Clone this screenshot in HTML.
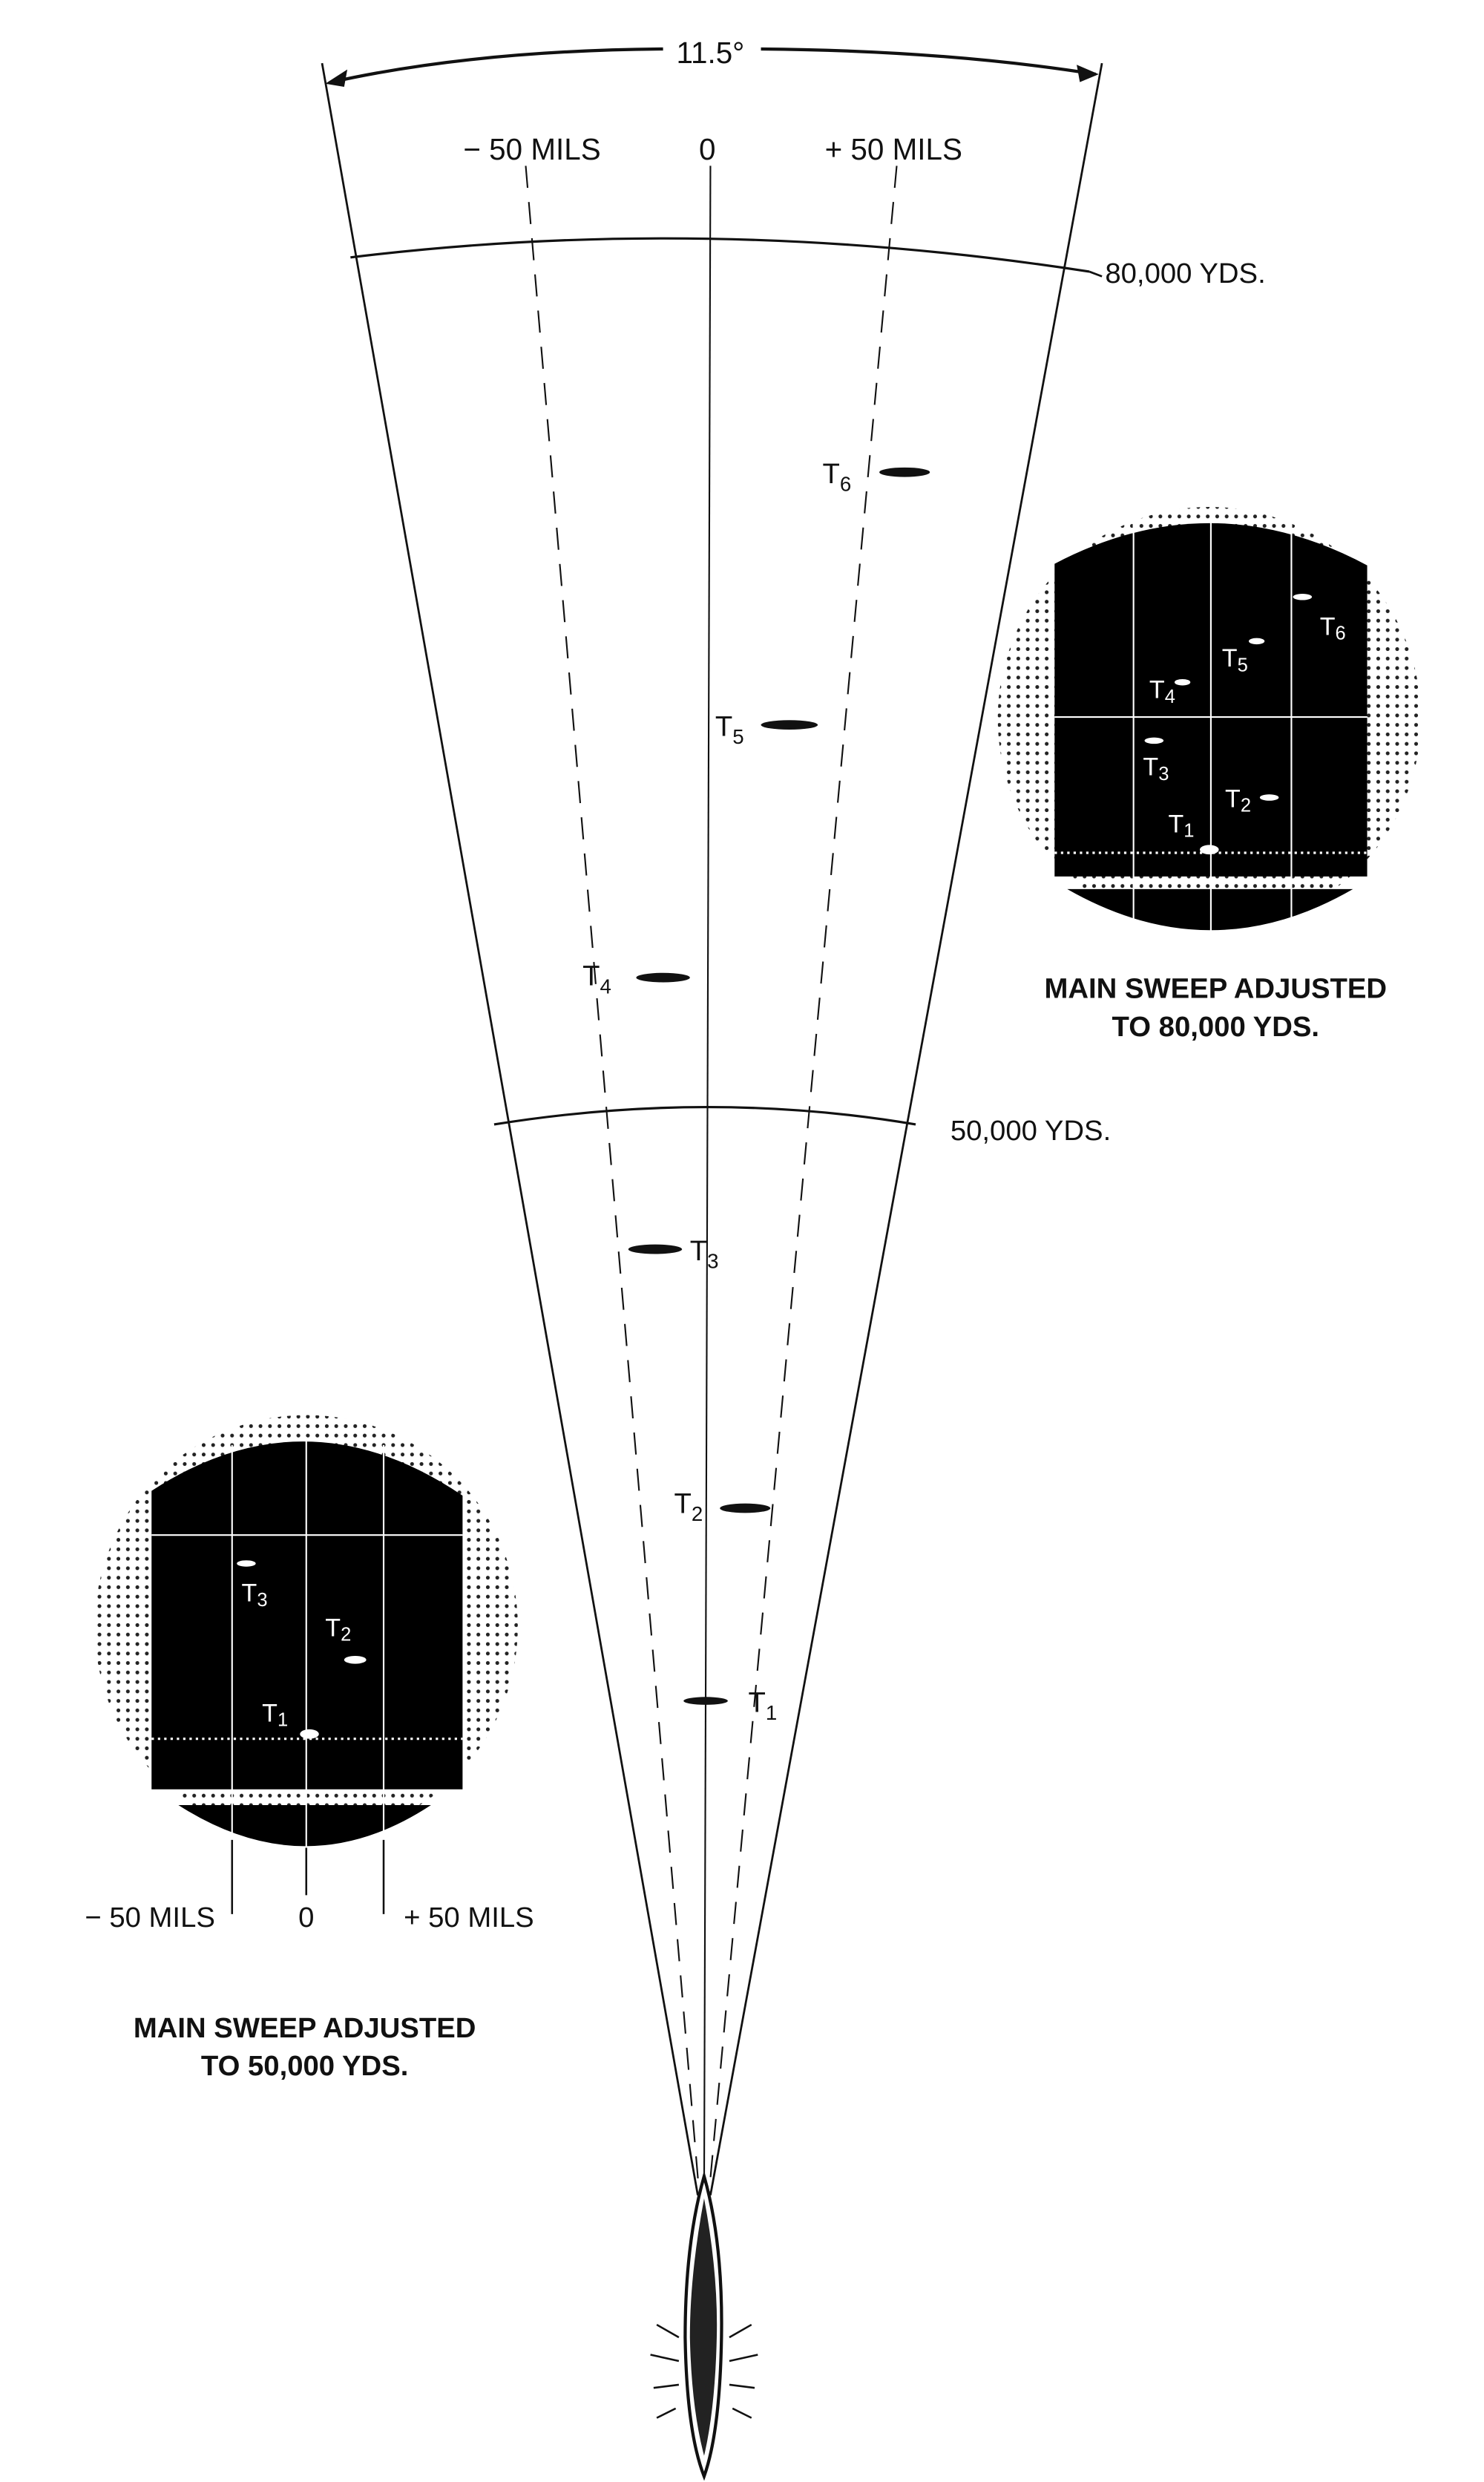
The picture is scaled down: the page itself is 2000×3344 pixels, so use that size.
<!DOCTYPE html>
<html><head><meta charset="utf-8"><style>
html,body{margin:0;padding:0;background:#fff;}
svg{display:block;}
text{font-family:"Liberation Sans",sans-serif;fill:#111;}
</style></head><body>
<svg width="2000" height="3344" viewBox="0 0 940 1571.6" preserveAspectRatio="none" xmlns="http://www.w3.org/2000/svg">
<defs>
<pattern id="dots" width="6" height="6" patternUnits="userSpaceOnUse">
<circle cx="3" cy="3" r="1.2" fill="#222"/>
</pattern>
</defs>
<g stroke="#111" fill="none" stroke-width="1.3">
<line x1="204" y1="40" x2="442" y2="1390"/>
<line x1="698" y1="40" x2="450" y2="1390"/>
<line x1="450" y1="105" x2="446" y2="1390" stroke-width="1"/>
<line x1="333" y1="105" x2="443" y2="1390" stroke-dasharray="14,9" stroke-width="1"/>
<line x1="568" y1="105" x2="449" y2="1390" stroke-dasharray="14,9" stroke-width="1"/>
<path d="M222,163 Q450,135 690,172" stroke-width="1.5"/>
<path d="M690,172 L698,175"/>
<path d="M313,712 Q450,690 580,712" stroke-width="1.5"/>
<path d="M210,52 Q300,32 420,31" stroke-width="2"/>
<path d="M482,31 Q600,32 694,47" stroke-width="2"/>
</g>
<polygon points="206,53 220,44 218,55" fill="#111"/>
<polygon points="696,47 682,41 684,52" fill="#111"/>
<text x="450" y="40" font-size="19" text-anchor="middle">11.5°</text>
<text x="337" y="101" font-size="19" text-anchor="middle">− 50 MILS</text>
<text x="448" y="101" font-size="19" text-anchor="middle">0</text>
<text x="566" y="101" font-size="19" text-anchor="middle">+ 50 MILS</text>
<text x="700" y="179" font-size="18">80,000 YDS.</text>
<text x="602" y="722" font-size="18">50,000 YDS.</text>
<g fill="#111">
<ellipse cx="573" cy="299" rx="16" ry="3"/>
<ellipse cx="500" cy="459" rx="18" ry="3"/>
<ellipse cx="420" cy="619" rx="17" ry="3"/>
<ellipse cx="415" cy="791" rx="17" ry="3"/>
<ellipse cx="472" cy="955" rx="16" ry="3"/>
<ellipse cx="447" cy="1077" rx="14" ry="2.5"/>
</g>
<g font-size="18">
<text x="521" y="306">T<tspan font-size="13" dy="5">6</tspan></text>
<text x="453" y="466">T<tspan font-size="13" dy="5">5</tspan></text>
<text x="369" y="624">T<tspan font-size="13" dy="5">4</tspan></text>
<text x="437" y="798">T<tspan font-size="13" dy="5">3</tspan></text>
<text x="427" y="958">T<tspan font-size="13" dy="5">2</tspan></text>
<text x="474" y="1084">T<tspan font-size="13" dy="5">1</tspan></text>
</g>
<circle cx="766" cy="455" r="134" fill="url(#dots)"/>
<path d="M668,357 Q767,305 866,358 L866,555 L668,555 Z" fill="#000"/>
<path d="M676,563 L857,563 Q767,615 676,563 Z" fill="#000"/>
<g stroke="#fff" stroke-width="1">
<line x1="718" y1="330" x2="718" y2="590"/>
<line x1="767" y1="325" x2="767" y2="592"/>
<line x1="818" y1="330" x2="818" y2="590"/>
<line x1="668" y1="454" x2="866" y2="454"/>
<line x1="668" y1="540" x2="866" y2="540" stroke-dasharray="1.5,2.5" stroke-width="1.5"/>
</g>
<g fill="#fff">
<ellipse cx="825" cy="378" rx="6" ry="2"/>
<ellipse cx="796" cy="406" rx="5" ry="2"/>
<ellipse cx="749" cy="432" rx="5" ry="2"/>
<ellipse cx="731" cy="469" rx="6" ry="2"/>
<ellipse cx="804" cy="505" rx="6" ry="2"/>
<ellipse cx="766" cy="538" rx="6" ry="3"/>
</g>
<g font-size="16">
<text x="836" y="402" style="fill:#fff">T<tspan font-size="12" dy="3">6</tspan></text>
<text x="774" y="422" style="fill:#fff">T<tspan font-size="12" dy="3">5</tspan></text>
<text x="728" y="442" style="fill:#fff">T<tspan font-size="12" dy="3">4</tspan></text>
<text x="724" y="491" style="fill:#fff">T<tspan font-size="12" dy="3">3</tspan></text>
<text x="776" y="511" style="fill:#fff">T<tspan font-size="12" dy="3">2</tspan></text>
<text x="740" y="527" style="fill:#fff">T<tspan font-size="12" dy="3">1</tspan></text>
</g>
<text x="770" y="632" font-size="18" text-anchor="middle" font-weight="bold">MAIN SWEEP ADJUSTED</text>
<text x="770" y="656" font-size="18" text-anchor="middle" font-weight="bold">TO 80,000 YDS.</text>
<circle cx="194" cy="1030" r="134" fill="url(#dots)"/>
<path d="M96,944 Q194,880 293,947 L293,1133 L96,1133 Z" fill="#000"/>
<path d="M113,1143 L273,1143 Q194,1195 113,1143 Z" fill="#000"/>
<g stroke="#fff" stroke-width="1">
<line x1="147" y1="915" x2="147" y2="1170"/>
<line x1="194" y1="910" x2="194" y2="1172"/>
<line x1="243" y1="915" x2="243" y2="1170"/>
<line x1="96" y1="972" x2="293" y2="972"/>
<line x1="96" y1="1101" x2="293" y2="1101" stroke-dasharray="1.5,2.5" stroke-width="1.5"/>
</g>
<g stroke="#111" stroke-width="1.2">
<line x1="147" y1="1165" x2="147" y2="1212"/>
<line x1="194" y1="1170" x2="194" y2="1200"/>
<line x1="243" y1="1165" x2="243" y2="1212"/>
</g>
<g fill="#fff">
<ellipse cx="156" cy="990" rx="6" ry="2"/>
<ellipse cx="225" cy="1051" rx="7" ry="2.5"/>
<ellipse cx="196" cy="1098" rx="6" ry="3"/>
</g>
<g font-size="16">
<text x="153" y="1014" style="fill:#fff">T<tspan font-size="12" dy="3">3</tspan></text>
<text x="206" y="1036" style="fill:#fff">T<tspan font-size="12" dy="3">2</tspan></text>
<text x="166" y="1090" style="fill:#fff">T<tspan font-size="12" dy="3">1</tspan></text>
</g>
<text x="95" y="1220" font-size="18" text-anchor="middle">− 50 MILS</text>
<text x="194" y="1220" font-size="18" text-anchor="middle">0</text>
<text x="297" y="1220" font-size="18" text-anchor="middle">+ 50 MILS</text>
<text x="193" y="1290" font-size="18" text-anchor="middle" font-weight="bold">MAIN SWEEP ADJUSTED</text>
<text x="193" y="1314" font-size="18" text-anchor="middle" font-weight="bold">TO 50,000 YDS.</text>
<path d="M446,1378 Q458,1420 457,1480 Q456,1540 446,1568 Q435,1540 434,1480 Q434,1420 446,1378 Z" fill="#fff" stroke="#111" stroke-width="2"/>
<path d="M446,1392 Q455,1440 454,1480 Q453,1525 446,1555 Q438,1525 437,1480 Q437,1440 446,1392 Z" fill="#222"/>
<g stroke="#111" stroke-width="1.2">
<path d="M430,1480 l-14,-8 M430,1495 l-18,-4 M430,1510 l-16,2 M428,1525 l-12,6"/>
<path d="M462,1480 l14,-8 M462,1495 l18,-4 M462,1510 l16,2 M464,1525 l12,6"/>
</g>
</svg>
</body></html>
